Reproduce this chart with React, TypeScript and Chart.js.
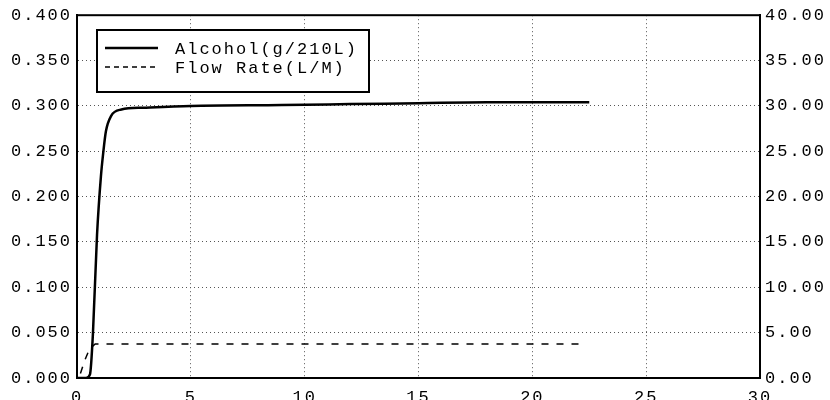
import React, { useEffect, useRef } from "react";
import { Chart, registerables } from "chart.js";

Chart.register(...registerables);

const xTickValues = [0, 5, 10, 15, 20, 25, 30];
const alcoholTime = [0, 0.4, 0.57, 0.7, 0.88, 1.05, 1.16, 1.27, 1.5, 1.95, 2.9, 5.0, 9.0, 12.0, 15.0, 18.0, 22.5];
const alcoholValue = [0, 0, 0.004, 0.049, 0.158, 0.222, 0.25, 0.272, 0.289, 0.296, 0.298, 0.3, 0.301, 0.302, 0.303, 0.304, 0.304];
const flowTime = [0.15, 0.35, 0.55, 0.8, 5, 10, 15, 20, 22.2];
const flowValue = [0.5, 2.0, 3.2, 3.75, 3.75, 3.75, 3.75, 3.75, 3.75];
const legendLabels = ["Alcohol(g/210L)", "Flow Rate(L/M)"];

const FONT = "'Liberation Mono', 'DejaVu Sans Mono', monospace";
const SPACING = "2px";

const spacingPlugin = {
  id: "spacing",
  beforeDraw(chart: any) {
    (chart.ctx as any).letterSpacing = SPACING;
  },
};

const framePlugin = {
  id: "frame",
  afterDatasetsDraw(chart: any) {
    const { ctx, chartArea } = chart;
    const a = chartArea;
    ctx.save();
    ctx.strokeStyle = "#000";
    ctx.lineWidth = 2;
    ctx.strokeRect(a.left, a.top, a.right - a.left, a.bottom - a.top);
    // legend
    const bx = 97, by = 30, bw = 272, bh = 62;
    ctx.fillStyle = "#fff";
    ctx.fillRect(bx, by, bw, bh);
    ctx.strokeRect(bx, by, bw, bh);
    ctx.lineWidth = 2.5;
    ctx.beginPath();
    ctx.moveTo(105, 48);
    ctx.lineTo(158, 48);
    ctx.stroke();
    ctx.lineWidth = 1.5;
    ctx.setLineDash([5, 4]);
    ctx.beginPath();
    ctx.moveTo(105, 67);
    ctx.lineTo(158, 67);
    ctx.stroke();
    ctx.setLineDash([]);
    ctx.fillStyle = "#000";
    ctx.font = `17px ${FONT}`;
    (ctx as any).letterSpacing = SPACING;
    ctx.textBaseline = "middle";
    ctx.textAlign = "left";
    ctx.fillText(legendLabels[0], 175, 49);
    ctx.fillText(legendLabels[1], 175, 68);
    ctx.restore();
  },
};

export default function App() {
  const ref = useRef<HTMLCanvasElement | null>(null);
  useEffect(() => {
    document.body.style.margin = "0";
    if (!ref.current) return;
    const chart = new Chart(ref.current, {
      type: "line",
      data: {
        datasets: [
          {
            label: legendLabels[0],
            data: alcoholTime.map((t, i) => ({ x: t, y: alcoholValue[i] })),
            borderColor: "#000",
            borderWidth: 2.5,
            pointRadius: 0,
            cubicInterpolationMode: "monotone",
            yAxisID: "y",
          },
          {
            label: legendLabels[1],
            data: flowTime.map((t, i) => ({ x: t, y: flowValue[i] })),
            borderColor: "#000",
            borderWidth: 1.5,
            borderDash: [7, 8],
            pointRadius: 0,
            yAxisID: "y2",
          },
        ],
      },
      options: {
        animation: false,
        responsive: false,
        devicePixelRatio: 1,
        layout: { padding: { top: 10, left: 0, right: 0, bottom: 0 } },
        plugins: { legend: { display: false }, tooltip: { enabled: false } },
        scales: {
          x: {
            type: "linear",
            min: 0,
            max: 30,
            afterBuildTicks: (s: any) => {
              s.ticks = xTickValues.map((v) => ({ value: v }));
            },
            afterFit: (s: any) => {
              s.height = 22;
            },
            grid: { color: "#555", drawTicks: false, lineWidth: 1 },
            border: { display: true, color: "#000", width: 2, dash: [1, 3] } as any,
            ticks: { color: "#000", padding: 9, maxRotation: 0, font: { family: FONT, size: 17 } },
          },
          y: {
            position: "left",
            min: 0,
            max: 0.4,
            afterFit: (s: any) => {
              s.width = 77;
            },
            grid: { color: "#555", drawTicks: false, lineWidth: 1 },
            border: { display: true, color: "#000", width: 2, dash: [1, 3] } as any,
            ticks: {
              stepSize: 0.05,
              color: "#000",
              padding: 5,
              font: { family: FONT, size: 17 },
              callback: (v: any) => Number(v).toFixed(3),
            },
          },
          y2: {
            position: "right",
            min: 0,
            max: 40,
            afterFit: (s: any) => {
              s.width = 70;
            },
            grid: { display: false, drawTicks: false },
            border: { display: true, color: "#000", width: 2 },
            ticks: {
              stepSize: 5,
              color: "#000",
              padding: 5,
              font: { family: FONT, size: 17 },
              callback: (v: any) => Number(v).toFixed(2),
            },
          },
        },
      } as any,
      plugins: [spacingPlugin, framePlugin],
    });
    return () => chart.destroy();
  }, []);
  return (
    <div style={{ position: "fixed", left: 0, top: 0, width: 830, height: 400 }}>
      <canvas ref={ref} width={830} height={400} style={{ width: 830, height: 400 }} />
    </div>
  );
}
